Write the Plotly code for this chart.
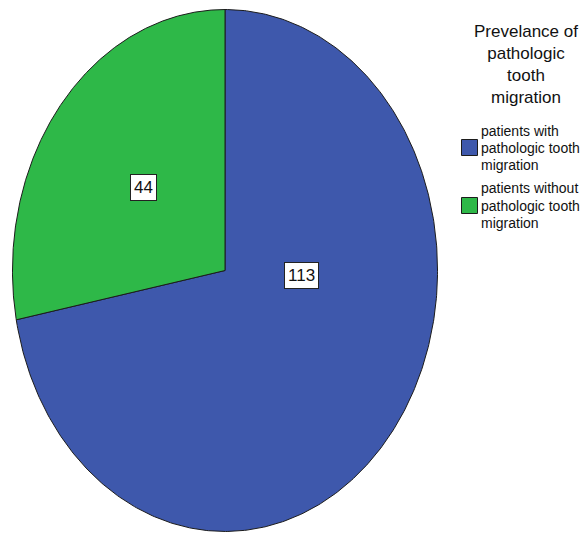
import numpy as np
import plotly.graph_objects as go

# Prevalence of pathologic tooth migration (counts of patients)
categories = [
    "patients with<br>pathologic tooth<br>migration",
    "patients without<br>pathologic tooth<br>migration",
]
counts = [113, 44]
colors = ["#3E58AC", "#2EB848"]
legend_title = "Prevelance of<br>pathologic<br>tooth<br>migration"

# value-label placement inside each slice: (radius fraction, angle in degrees)
label_anchor = [(0.36, -3.0), (0.5, None)]

W, H = 586, 534
# pixel box holding the (elliptical) pie
pie_left, pie_right, pie_top, pie_bottom = 12, 438, 9, 532

FONT = "Arial, Liberation Sans, sans-serif"
INK = "#111111"
EDGE = "#1c1c1c"

fig = go.Figure()

total = float(sum(counts))
start = 90.0  # 12 o'clock, slices run clockwise
annotations = []
for name, val, col, anchor in zip(categories, counts, colors, label_anchor):
    sweep = 360.0 * val / total
    end = start - sweep
    t = np.radians(np.linspace(start, end, 400))
    xs = np.concatenate([[0.0], np.cos(t), [0.0]])
    ys = np.concatenate([[0.0], np.sin(t), [0.0]])
    fig.add_trace(go.Scatter(
        x=xs, y=ys, mode="lines", fill="toself", fillcolor=col,
        line=dict(color=EDGE, width=1), hoverinfo="skip",
        showlegend=False,
    ))
    r, ang = anchor
    if ang is None:
        ang = (start + end) / 2.0
    a = np.radians(ang)
    annotations.append(dict(
        x=r * np.cos(a), y=r * np.sin(a), xref="x", yref="y",
        text=str(val), showarrow=False,
        font=dict(family=FONT, size=17, color=INK),
        bgcolor="white", bordercolor="#222222", borderwidth=1, borderpad=3,
    ))
    start = end

# legend swatches (one legend group per category so the gap can be set)
for i, (name, col) in enumerate(zip(categories, colors)):
    fig.add_trace(go.Scatter(
        x=[None], y=[None], mode="markers", name="",
        legendgroup=f"g{i}",
        marker=dict(symbol="square", size=16, color=col,
                    line=dict(color=EDGE, width=1)),
    ))

# legend entry text, set line by line for tight spacing
text_x = 479
first_line_y = [130.5, 188.5]
line_step = 17.3
for name, y0 in zip(categories, first_line_y):
    for k, line in enumerate(name.split("<br>")):
        annotations.append(dict(
            x=text_x / W, y=1 - (y0 + k * line_step) / H,
            xref="paper", yref="paper", xanchor="left", yanchor="middle",
            showarrow=False, text=line,
            font=dict(family=FONT, size=14, color=INK),
        ))

annotations.append(dict(
    x=526 / W, y=1 - 65 / H, xref="paper", yref="paper",
    xanchor="center", yanchor="middle", showarrow=False,
    text=legend_title, align="center",
    font=dict(family=FONT, size=17, color=INK),
))

fig.update_layout(
    width=W, height=H,
    margin=dict(l=0, r=0, t=0, b=0),
    paper_bgcolor="white", plot_bgcolor="white",
    xaxis=dict(domain=[pie_left / W, pie_right / W], range=[-1.002, 1.002],
               visible=False, fixedrange=True),
    yaxis=dict(domain=[1 - pie_bottom / H, 1 - pie_top / H], range=[-1.002, 1.002],
               visible=False, fixedrange=True),
    showlegend=True,
    legend=dict(
        x=449.5 / W, y=1 - 133 / H, xanchor="left", yanchor="top",
        font=dict(family=FONT, size=12, color=INK),
        bgcolor="rgba(0,0,0,0)", tracegroupgap=39, itemsizing="trace",
    ),
    annotations=annotations,
)

fig.write_html("out.html")
